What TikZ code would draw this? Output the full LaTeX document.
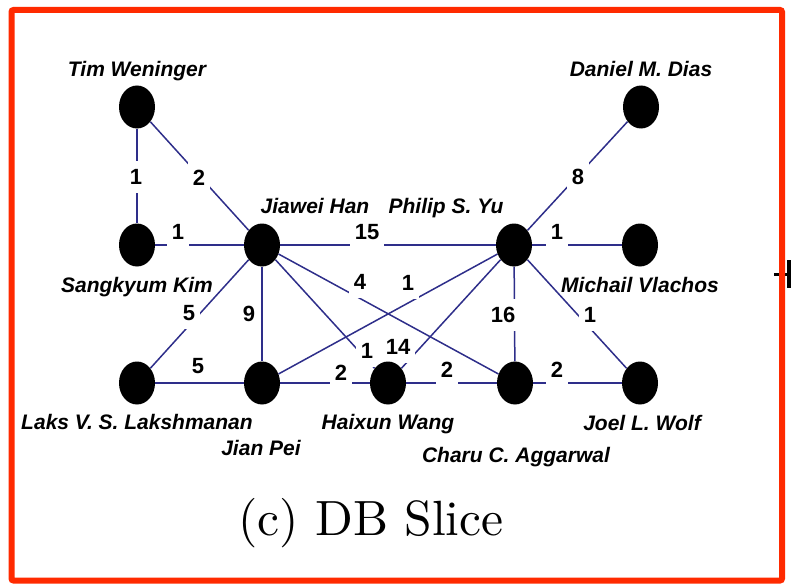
\documentclass[tikz,border=0pt]{standalone}
\usepackage{fontspec}
\newfontfamily\authorfont{Liberation Sans}
\newfontfamily\captionfont{lmroman10-regular.otf}
\usetikzlibrary{shapes.geometric}
\definecolor{linkblue}{HTML}{2E2E8A}
\definecolor{framered}{HTML}{FF2A00}
\pgfdeclarelayer{edges}
\pgfsetlayers{edges,main}

\begin{document}
\begin{tikzpicture}[x=1pt,y=-1pt,
  author/.style={ellipse,fill=black,minimum width=36pt,minimum height=43pt,inner sep=0pt},
  authorname/.style={anchor=base,font=\authorfont\bfseries\itshape\fontsize{21}{25}\selectfont},
  coauthor/.style={linkblue,line width=1.5pt},
  weight/.style={fill=white,inner xsep=5pt,inner ysep=8pt,font=\authorfont\bfseries\fontsize{22}{26}\selectfont}]
  \useasboundingbox (0,0) rectangle (791,583);

  % Authors
  \foreach \id/\x/\y in {tw/137/107, dd/641/107,
                         sk/137/245, jh/262/245, py/514/245, mv/640/245,
                         lk/137/383, jp/262/383, hw/388/383, ca/515/383, jw/640/383}
    \node[author] (\id) at (\x,\y) {};

  % Names
  \node[authorname] (tw-name) at (137,77) {Tim Weninger};
  \node[authorname] (dd-name) at (641,77) {Daniel M. Dias};
  \node[authorname] (jh-name) at (315,213) {Jiawei Han};
  \node[authorname] (py-name) at (446,213) {Philip S. Yu};
  \node[authorname] (sk-name) at (137,292) {Sangkyum Kim};
  \node[authorname] (mv-name) at (640,292) {Michail Vlachos};
  \node[authorname] (lk-name) at (137,429) {Laks V. S. Lakshmanan};
  \node[authorname] (hw-name) at (388,429) {Haixun Wang};
  \node[authorname] (jw-name) at (642,430) {Joel L. Wolf};
  \node[authorname] (jp-name) at (261,455) {Jian Pei};
  \node[authorname] (ca-name) at (516,462) {Charu C. Aggarwal};

  \begin{pgfonlayer}{edges}
    % Co-author links
    \foreach \a/\b in {tw/sk, tw/jh, sk/jh, jh/py, py/dd, py/mv,
                       jh/lk, jh/jp, jh/ca, jh/hw, py/jp, py/hw, py/ca, py/jw,
                       lk/jp, jp/hw, hw/ca, ca/jw}
      \draw[coauthor] (\a) -- (\b);

    % Paper counts
    \foreach \id/\x/\y/\n in {w1/136/177/1, w2/199/178/2, w3/178/232/1, w4/367/232/15,
                              w5/578/177/8, w6/557/232/1, w7/189/313/5, w8/249/314/9,
                              w9/360/282/4, w10/367/351/1, w11/408/283/1, w12/398/347/14,
                              w13/503/315/16, w14/590/315/1, w15/198/366/5, w16/341/373/2,
                              w17/447/370/2, w18/557/370/2}
      \node[weight] (\id) at (\x,\y) {\n};
  \end{pgfonlayer}

  % Caption
  \node[anchor=base,font=\captionfont\fontsize{49.5}{58}\selectfont] (caption) at (371,535) {(c) DB Slice};

  % Edge of the next panel
  \fill (774,273) rectangle (788,276);
  \fill (787,260) rectangle (791,288);

  % Frame
  \draw[framered,line width=6pt,rounded corners=2pt] (11.5,10) rectangle (782,580.5);
\end{tikzpicture}
\end{document}
